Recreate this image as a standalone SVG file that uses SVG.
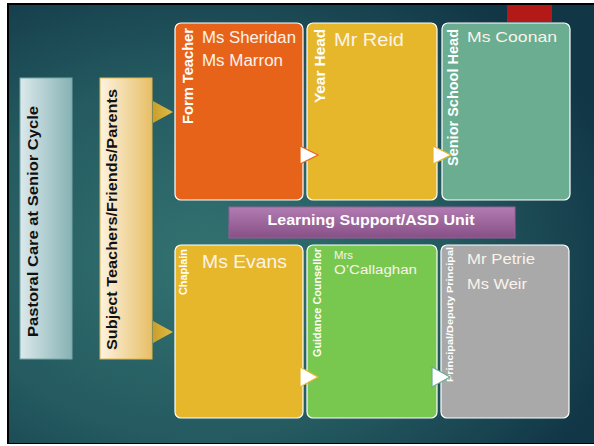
<svg xmlns="http://www.w3.org/2000/svg" width="594" height="446" viewBox="0 0 594 446">
  <defs>
    <radialGradient id="bg" cx="0.33" cy="0.58" r="0.75">
      <stop offset="0" stop-color="#337271"/>
      <stop offset="0.55" stop-color="#245a60"/>
      <stop offset="1" stop-color="#113646"/>
    </radialGradient>
    <linearGradient id="pastoral" x1="0" y1="0" x2="1" y2="0">
      <stop offset="0" stop-color="#dce9ec"/>
      <stop offset="1" stop-color="#86b2b4"/>
    </linearGradient>
    <linearGradient id="subject" x1="0" y1="0" x2="1" y2="0">
      <stop offset="0" stop-color="#fcf3e2"/>
      <stop offset="1" stop-color="#e8bf66"/>
    </linearGradient>
    <linearGradient id="purple" x1="0" y1="0" x2="0" y2="1">
      <stop offset="0" stop-color="#b27db2"/>
      <stop offset="1" stop-color="#874f86"/>
    </linearGradient>
    <linearGradient id="goldArrow" x1="0" y1="0" x2="1" y2="0">
      <stop offset="0" stop-color="#c99f2a"/>
      <stop offset="1" stop-color="#e2bb45"/>
    </linearGradient>
  </defs>
  <style>
    .box { stroke: #ffffff; stroke-width: 1.2; }
    .role { font-family: "Liberation Sans", Arial, sans-serif; font-weight: bold; fill: #ffffff; }
    .name { font-family: "Liberation Sans", Arial, sans-serif; fill: #fbf3ea; }
    .side { font-family: "Liberation Sans", Arial, sans-serif; font-weight: bold; fill: #111111; font-size: 15px; }
    .step { fill: #ffffff; stroke-width: 1.2; }
  </style>

  <!-- page frame and backdrop -->
  <rect x="0" y="0" width="594" height="446" fill="#ffffff"/>
  <rect x="7" y="3" width="587" height="441" fill="#000000"/>
  <rect x="9" y="5" width="585" height="438" fill="url(#bg)"/>
  <rect x="507" y="5" width="45" height="17" fill="#b31a17"/>

  <!-- left column -->
  <g id="pastoral-care">
    <rect x="20" y="78" width="52" height="281" fill="url(#pastoral)" stroke="#79a7a8" stroke-width="1"/>
    <text class="side" transform="translate(38,337) rotate(-90)" textLength="231" lengthAdjust="spacingAndGlyphs">Pastoral Care at Senior Cycle</text>
  </g>
  <g id="subject-teachers">
    <rect x="100" y="78" width="52" height="281" fill="url(#subject)" stroke="#e0b64a" stroke-width="1"/>
    <text class="side" transform="translate(117,350) rotate(-90)" textLength="261" lengthAdjust="spacingAndGlyphs">Subject Teachers/Friends/Parents</text>
  </g>

  <!-- top row -->
  <g id="form-teacher">
    <rect class="box" x="175" y="23" width="128" height="177" rx="6" fill="#e8631a"/>
    <text class="role" font-size="15" transform="translate(193,124) rotate(-90)" textLength="96" lengthAdjust="spacingAndGlyphs">Form Teacher</text>
    <text class="name" x="202" y="43" font-size="16" textLength="94" lengthAdjust="spacingAndGlyphs">Ms Sheridan</text>
    <text class="name" x="202" y="66" font-size="16" textLength="81" lengthAdjust="spacingAndGlyphs">Ms Marron</text>
  </g>
  <g id="year-head">
    <rect class="box" x="307" y="23" width="130" height="177" rx="6" fill="#e6b72a"/>
    <text class="role" font-size="15" transform="translate(325,103) rotate(-90)" textLength="74" lengthAdjust="spacingAndGlyphs">Year Head</text>
    <text class="name" x="334" y="46" font-size="18" textLength="70" lengthAdjust="spacingAndGlyphs">Mr Reid</text>
  </g>
  <g id="senior-school-head">
    <rect class="box" x="442" y="23" width="128" height="177" rx="6" fill="#6aad90"/>
    <text class="role" font-size="15" transform="translate(458,166) rotate(-90)" textLength="137" lengthAdjust="spacingAndGlyphs">Senior School Head</text>
    <text class="name" x="467" y="42" font-size="15" textLength="90" lengthAdjust="spacingAndGlyphs">Ms Coonan</text>
  </g>

  <!-- shared unit -->
  <g id="learning-support">
    <rect x="229" y="207" width="286" height="31" fill="url(#purple)" stroke="#9a5f98" stroke-width="1"/>
    <text class="role" x="371" y="225" font-size="14.5" text-anchor="middle" textLength="207" lengthAdjust="spacingAndGlyphs">Learning Support/ASD Unit</text>
  </g>

  <!-- bottom row -->
  <g id="chaplain">
    <rect class="box" x="175" y="245" width="128" height="173" rx="6" fill="#e6b72a"/>
    <text class="role" font-size="10" transform="translate(187,295) rotate(-90)" textLength="46" lengthAdjust="spacingAndGlyphs">Chaplain</text>
    <text class="name" x="202" y="268" font-size="18" textLength="85" lengthAdjust="spacingAndGlyphs">Ms Evans</text>
  </g>
  <g id="guidance-counsellor">
    <rect class="box" x="307" y="245" width="130" height="173" rx="6" fill="#78c84f"/>
    <text class="role" font-size="10" transform="translate(321,357) rotate(-90)" textLength="109" lengthAdjust="spacingAndGlyphs">Guidance Counsellor</text>
    <text class="name" x="334" y="259" font-size="11" textLength="19" lengthAdjust="spacingAndGlyphs">Mrs</text>
    <text class="name" x="334" y="274" font-size="12.5" textLength="83" lengthAdjust="spacingAndGlyphs">O’Callaghan</text>
  </g>
  <g id="principal">
    <rect class="box" x="441" y="245" width="128" height="173" rx="6" fill="#a9a9a9"/>
    <text class="role" font-size="9.5" transform="translate(453,382) rotate(-90)" textLength="135" lengthAdjust="spacingAndGlyphs">Principal/Deputy Principal</text>
    <text class="name" x="467" y="264" font-size="15" textLength="68" lengthAdjust="spacingAndGlyphs">Mr Petrie</text>
    <text class="name" x="467" y="289" font-size="15" textLength="60" lengthAdjust="spacingAndGlyphs">Ms Weir</text>
  </g>

  <!-- connectors -->
  <g id="connectors">
    <polygon points="153,101 173,112 153,123" fill="url(#goldArrow)"/>
    <polygon points="153,321 173,332 153,343" fill="url(#goldArrow)"/>
    <polygon class="step" points="300,146 318,155 300,164" stroke="#e8631a"/>
    <polygon class="step" points="433,146 451,155 433,164" stroke="#e6b72a"/>
    <polygon class="step" points="300,367 318,377 300,387" stroke="#e6b72a"/>
    <polygon class="step" points="432,367 450,377 432,387" stroke="#6aad90"/>
  </g>
</svg>
